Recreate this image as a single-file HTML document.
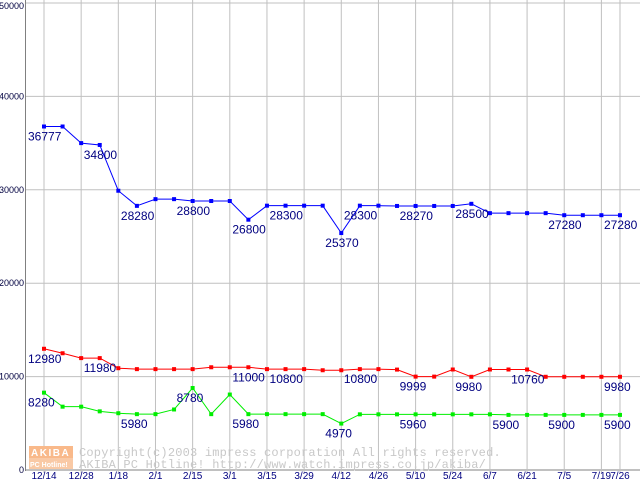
<!DOCTYPE html>
<html><head><meta charset="utf-8"><style>
html,body{margin:0;padding:0;background:#fff;width:640px;height:480px;overflow:hidden}
svg text{font-family:"Liberation Sans",sans-serif}
</style></head><body>
<svg id="chart" width="640" height="480" xmlns="http://www.w3.org/2000/svg">
<g id="grid"></g>
<g id="wm">
<rect x="29" y="446" width="44" height="12" fill="#f9b98a"/>
<rect x="29" y="458" width="44" height="11" fill="#f9c9a5"/>
<text x="31" y="456" font-size="10" fill="#fff" font-weight="bold" letter-spacing="1.5">AKIBA</text>
<text x="30" y="467" font-size="7" fill="#fff" font-weight="bold">PC Hotline!</text>
<text x="79" y="456" font-size="12" fill="#c8c8c8" style="font-family:'Liberation Mono',monospace" letter-spacing="0.2">Copyright(c)2003 impress corporation All rights reserved.</text>
<text x="79" y="468" font-size="12" fill="#c8c8c8" style="font-family:'Liberation Mono',monospace" letter-spacing="0.2">AKIBA PC Hotline!  http://www.watch.impress.co.jp/akiba/</text>
</g>
<g id="series"></g>
</svg>
<script>
const dates = ["12/14","","12/28","","1/18","","2/1","","2/15","","3/1","","3/15","","3/29","","4/12","","4/26","","5/10","","5/24","","6/7","","6/21","","7/5","","7/19","7/26"];
const yTicks = [0,10000,20000,30000,40000,50000];
const blueValues = [36777,36777,35000,34800,29900,28280,29000,29000,28800,28800,28800,26800,28300,28300,28300,28300,25370,28300,28300,28270,28270,28270,28270,28500,27500,27500,27500,27500,27280,27280,27280,27280];
const redValues = [12980,12500,11980,11980,10900,10800,10800,10800,10800,11000,11000,11000,10800,10800,10800,10680,10680,10800,10800,10750,9999,9999,10760,9980,10760,10760,10760,9980,9980,9980,9980,9980];
const greenValues = [8280,6780,6780,6280,6080,5980,5980,6480,8780,5980,8080,5980,5980,5980,5980,5980,4970,5960,5960,5960,5960,5960,5960,5960,5960,5900,5900,5900,5900,5900,5900,5900];
const blueLabels = [0,3,5,8,11,13,16,17,20,23,28,31];
const redLabels = [0,3,11,13,17,20,23,26,31];
const greenLabels = [0,5,8,11,16,20,25,28,31];
const NS="http://www.w3.org/2000/svg";
const X0=44, DX=18.58, Y0=470, YTOP=3, YMAX=50000;
function xs(i){return X0+i*DX;}
function ys(v){return Y0-(v/YMAX)*(Y0-YTOP);}
function mk(tag,attrs,parent){const e=document.createElementNS(NS,tag);for(const k in attrs)e.setAttribute(k,attrs[k]);parent.appendChild(e);return e;}
const grid=document.getElementById('grid');
yTicks.forEach(v=>{
  const l=mk('line',{x1:25,x2:640,y1:ys(v),y2:ys(v),stroke:v===0?'#808080':'#c0c0c0','stroke-width':1},grid);
  
  
  const t=mk('text',{x:24,y:ys(v)+(v===YMAX?6:3),'font-size':9,'text-anchor':'end',fill:'#000040'},grid);
  
  
  t.textContent=String(v);
});
dates.forEach((d,i)=>{
  if(!d)return;
  const l=mk('line',{x1:xs(i),x2:xs(i),y1:0,y2:473,stroke:'#c0c0c0','stroke-width':1},grid);
  
  
  const t=mk('text',{x:xs(i),y:479,'font-size':10,'text-anchor':'middle',fill:'#000080'},grid);
  
  
  t.textContent=d;
});
const ax=mk('line',{x1:25.5,x2:25.5,y1:0,y2:471,stroke:'#808080','stroke-width':1},grid);


const ser=document.getElementById('series');
function draw(vals,labels,color,name){
  const g=mk('g',{},ser);
  
  
  const p=mk('polyline',{points:vals.map((v,i)=>xs(i)+','+ys(v)).join(' '),fill:'none',stroke:color,'stroke-width':1},g);
  
  
  vals.forEach((v,i)=>{
    const r=mk('rect',{x:xs(i)-2,y:ys(v)-2,width:4,height:4,fill:color},g);
    
    
  });
  labels.forEach(i=>{
    const t=mk('text',{x:xs(i)-16,y:ys(vals[i])+14,'font-size':12,fill:'#000080'},g);
    
    
    t.textContent=String(vals[i]);
  });
}
draw(greenValues,greenLabels,'#00ee00','green');
draw(redValues,redLabels,'#ff0000','red');
draw(blueValues,blueLabels,'#0000ff','blue');
</script>
</body></html>
